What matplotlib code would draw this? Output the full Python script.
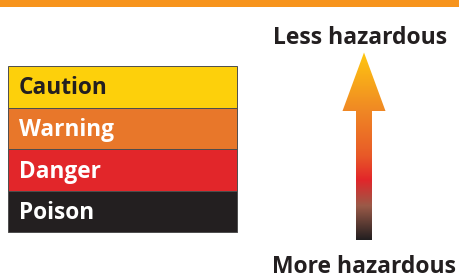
import numpy as np
import matplotlib
matplotlib.use("Agg")
import matplotlib.pyplot as plt
from matplotlib.patches import Rectangle, Polygon
from matplotlib.colors import LinearSegmentedColormap

plt.rcParams['font.family'] = ['Open Sans', 'DejaVu Sans']

# hazard levels, top to bottom
levels = ["Caution", "Warning", "Danger", "Poison"]
level_colors = ["#FDD00B", "#E8772A", "#E2262A", "#231F20"]
text_colors = ["#231F20", "white", "white", "white"]
top_label = "Less hazardous"
bottom_label = "More hazardous"

W, H = 459, 280
fig = plt.figure(figsize=(W / 100, H / 100), dpi=100)
ax = fig.add_axes([0, 0, 1, 1])
ax.set_xlim(0, W)
ax.set_ylim(H, 0)
ax.axis("off")

# orange band at the top
ax.add_patch(Rectangle((0, 0), W, 6.5, color="#F7941D", lw=0))

# level table
x0, x1 = 8, 237
y0, row_h = 66, 41.5
for i, (name, c, tc) in enumerate(zip(levels, level_colors, text_colors)):
    y = y0 + i * row_h
    ax.add_patch(Rectangle((x0, y), x1 - x0, row_h, facecolor=c,
                           edgecolor="#4d4d4d", lw=0.7))
    ax.text(x0 + 11, y + 28.5, name, color=tc, fontsize=16.3,
            fontweight="bold", va="baseline", ha="left")

# gradient arrow
cx = 364
pts = [(cx, 52.5), (cx + 21.5, 111), (cx + 8, 111), (cx + 8, 240),
       (cx - 8, 240), (cx - 8, 111), (cx - 21.5, 111)]
arrow = Polygon(pts, closed=True, facecolor="none", edgecolor="none")
ax.add_patch(arrow)
cmap = LinearSegmentedColormap.from_list("haz", [
    (0.0, "#FFC710"), (0.3, "#F08A24"), (0.55, "#E85A28"),
    (0.68, "#E2262A"), (0.82, "#9A5A48"), (1.0, "#231F20")])
grad = np.linspace(0, 1, 256).reshape(-1, 1)
im = ax.imshow(grad, cmap=cmap, aspect="auto",
               extent=(cx - 22, cx + 22, 240, 52.5), interpolation="bilinear")
im.set_clip_path(arrow)

ax.text(360.5, 44.3, top_label, fontsize=16.5, fontweight="bold",
        color="#231F20", ha="center", va="baseline")
ax.text(364, 273, bottom_label, fontsize=16.5, fontweight="bold",
        color="#231F20", ha="center", va="baseline")

fig.savefig("out.png", dpi=100)
